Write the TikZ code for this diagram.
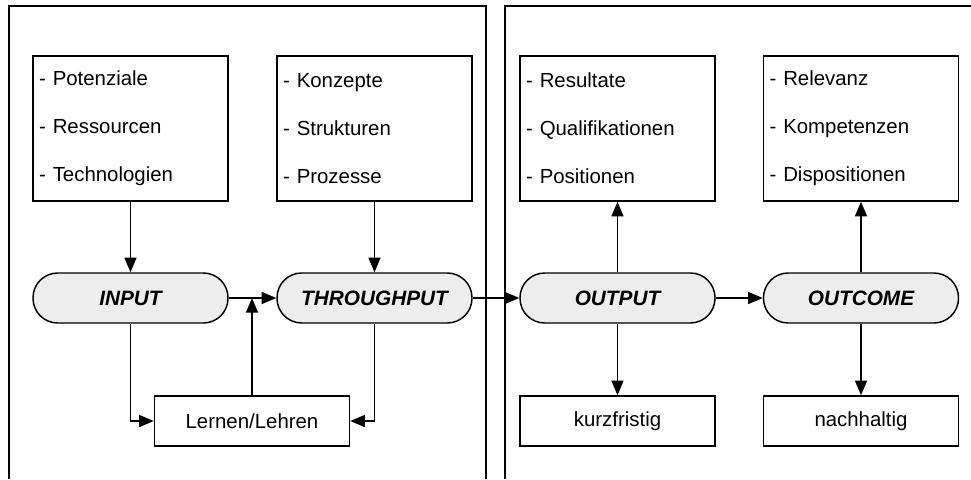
\documentclass[tikz,border=0pt]{standalone}
\usepackage{fontspec}
\setmainfont{Liberation Sans}
\usetikzlibrary{arrows.meta}
\begin{document}
\begin{tikzpicture}[x=0.75pt,y=-0.75pt,
  line width=1.1pt,
  >={Triangle[length=11pt,width=9pt]},
  listbox/.style={draw, rectangle, minimum width=146.25pt, minimum height=108.75pt,
    text width=137pt, inner xsep=4.6pt, align=left,
    font=\fontsize{15.3}{36}\selectfont},
  stage/.style={draw, fill=black!7, rounded corners=18.5pt,
    minimum width=146.25pt, minimum height=37.5pt,
    font=\fontsize{15.6}{18}\selectfont\bfseries\itshape},
  smallbox/.style={draw, rectangle, minimum width=146.25pt, minimum height=37.5pt,
    font=\fontsize{15.3}{18}\selectfont}
]
\useasboundingbox (0,0) rectangle (971,479);

% two open frames
\draw (9,479) |- (486,6) -- (486,479);
\draw (505,479) |- (971,6);

% description boxes
\node[listbox] (pot) at (130.5,128.5) {- Potenziale\\- Ressourcen\\- Technologien};
\node[listbox] (kon) at (374.5,128.5) {- Konzepte\\- Strukturen\\- Prozesse};
\node[listbox] (resl) at (617.5,128.5) {- Resultate\\- Qualifikationen\\- Positionen};
\node[listbox] (rel) at (861,128.5) {- Relevanz\\- Kompetenzen\\- Dispositionen};

% stages
\node[stage] (in) at (130.5,298) {INPUT};
\node[stage] (thr) at (374.5,298) {THROUGHPUT};
\node[stage] (out) at (617.5,298) {OUTPUT};
\node[stage] (oc) at (861,298) {OUTCOME};

% bottom boxes
\node[smallbox] (lern) at (252,421) {Lernen/Lehren};
\node[smallbox] (kurz) at (617.5,421) {kurzfristig};
\node[smallbox] (nach) at (861,421) {nachhaltig};

% connectors
\draw[->] (pot) -- (in);
\draw[->] (kon) -- (thr);
\draw[->] (in) -- (thr);
\coordinate (j) at (lern.north |- in.east);
\draw[->] (lern.north) -- (j);
\draw[->] (in.south) |- (lern.west);
\draw[->] (thr.south) |- (lern.east);
\draw[->] (thr) -- (out);
\draw[->] (out) -- (oc);
\draw[->] (out) -- (resl);
\draw[->] (oc) -- (rel);
\draw[->] (out) -- (kurz);
\draw[->] (oc) -- (nach);
\end{tikzpicture}
\end{document}
